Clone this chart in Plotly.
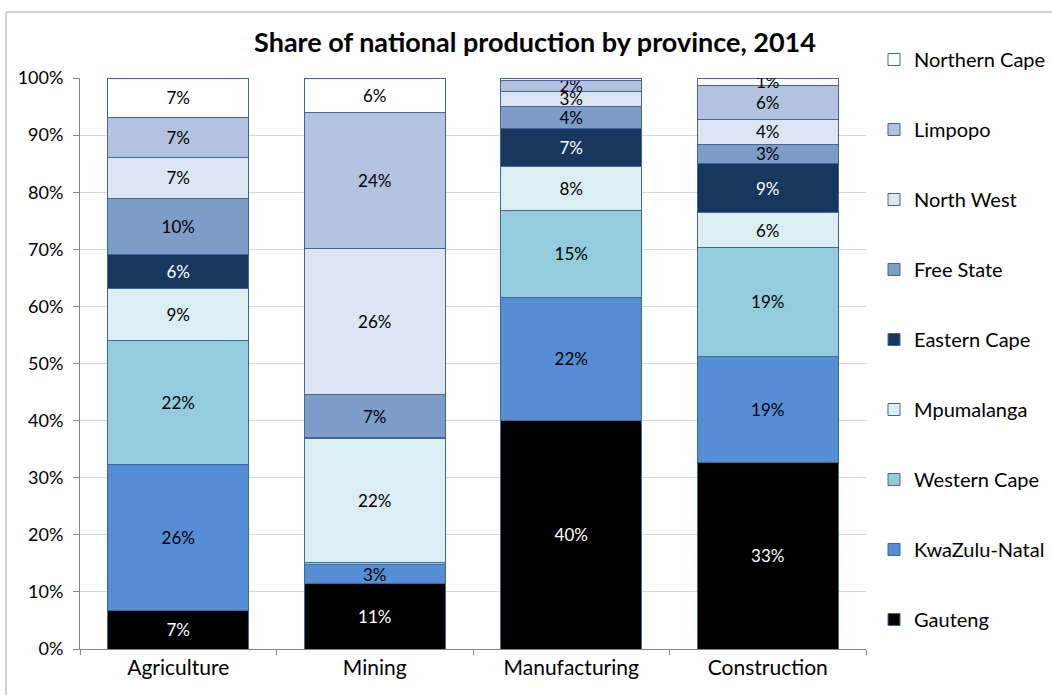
import plotly.graph_objects as go

sectors = ["Agriculture", "Mining", "Manufacturing", "Construction"]

# Share of each sector's national output (%), per province
gauteng = [6.7, 11.4, 40.1, 32.7]
kwazulu_natal = [25.6, 3.4, 21.5, 18.6]
western_cape = [21.8, 0.4, 15.2, 19.0]
mpumalanga = [9.1, 21.6, 7.7, 6.1]
eastern_cape = [5.9, 0.3, 6.6, 8.6]
free_state = [9.8, 7.4, 3.9, 3.4]
north_west = [7.2, 25.6, 2.7, 4.3]
limpopo = [7.0, 23.8, 1.8, 5.9]
northern_cape = [6.9, 6.1, 0.5, 1.4]

y_ticks = [0, 10, 20, 30, 40, 50, 60, 70, 80, 90, 100]
y_tick_labels = [f"{t}%" for t in y_ticks]

series = [
    ("Gauteng", gauteng, "#000000", "white"),
    ("KwaZulu-Natal", kwazulu_natal, "#558ED5", "black"),
    ("Western Cape", western_cape, "#93CDDD", "black"),
    ("Mpumalanga", mpumalanga, "#DBEEF4", "black"),
    ("Eastern Cape", eastern_cape, "#17375E", "white"),
    ("Free State", free_state, "#7E9CC8", "black"),
    ("North West", north_west, "#DCE6F2", "black"),
    ("Limpopo", limpopo, "#B3C2DE", "black"),
    ("Northern Cape", northern_cape, "#FFFFFF", "black"),
]

FONT = "Lato, 'Open Sans', sans-serif"

fig = go.Figure()
n = len(series)
for i, (name, vals, color, txtcolor) in enumerate(series):
    labels = [f"{v:.0f}%" if v >= 1 else "" for v in vals]
    fig.add_trace(go.Bar(
        x=sectors, y=vals, name=name,
        legendgroup=f"g{i}",
        legendrank=n - i,
        marker=dict(color=color, line=dict(color="#41679A", width=1)),
        text=labels, textposition="inside", insidetextanchor="middle",
        textangle=0,
        textfont=dict(family=FONT, size=17, color=txtcolor),
        constraintext="none",
        hoverinfo="x+y+name",
    ))

W, H = 1052, 695
L, R, T, B = 80, 186, 78, 46
pw, ph = W - L - R, H - T - B


def px_x(x):
    return (x - L) / pw


def px_y(y):
    return (H - B - y) / ph


fig.update_layout(
    width=W, height=H,
    margin=dict(l=L, r=R, t=T, b=B, autoexpand=False),
    barmode="stack",
    bargap=0.28,
    paper_bgcolor="white", plot_bgcolor="white",
    font=dict(family=FONT, size=16, color="black"),
    title=dict(
        text="<b>Share of national production by province, 2014</b>",
        font=dict(family=FONT, size=27, color="black"),
        x=535 / W, xref="container", xanchor="center",
        y=1 - 43 / H, yref="container", yanchor="middle",
    ),
    legend=dict(
        traceorder="grouped",
        tracegroupgap=41,
        x=px_x(874), y=px_y(40), xanchor="left", yanchor="top",
        font=dict(family=FONT, size=20, color="black"),
        bgcolor="rgba(0,0,0,0)",
        itemwidth=30,
        maxheight=690,
    ),
    xaxis=dict(
        showline=True, linecolor="#868686", linewidth=1,
        ticks="outside", tickson="boundaries", ticklen=5, tickcolor="#868686",
        tickfont=dict(family=FONT, size=21, color="black"),
        showgrid=False,
    ),
    yaxis=dict(
        range=[0, 100], tickvals=y_ticks, ticktext=y_tick_labels,
        showline=True, linecolor="#868686", linewidth=1,
        ticks="outside", ticklen=6, tickcolor="#868686",
        ticklabelstandoff=6,
        showgrid=True, gridcolor="#D9D9D9", gridwidth=1,
        tickfont=dict(family=FONT, size=18, color="black"),
        zeroline=False,
    ),
    shapes=[dict(
        type="rect", xref="paper", yref="paper",
        x0=px_x(6), x1=px_x(1060), y0=px_y(702), y1=px_y(12),
        line=dict(color="#A6A6A6", width=1), fillcolor="rgba(0,0,0,0)",
        layer="below",
    )],
)

fig.write_html("out.html")
